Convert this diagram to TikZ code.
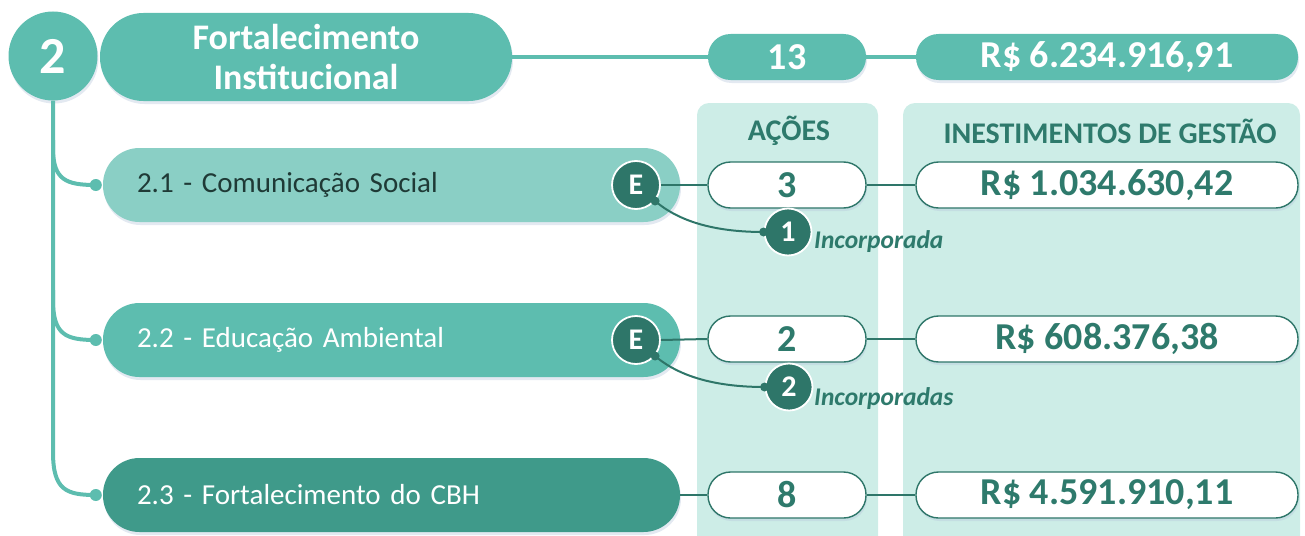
\documentclass[tikz,border=0pt]{standalone}
\usepackage{fontspec}
\setmainfont{Carlito}
\usetikzlibrary{shadows,calc}
\definecolor{tmid}{HTML}{5DBDAF}
\definecolor{tlight}{HTML}{8ACFC5}
\definecolor{tdark}{HTML}{3F9A8A}
\definecolor{tdeep}{HTML}{2E7669}
\definecolor{ttext}{HTML}{2E7A6C}
\definecolor{tcol}{HTML}{CDEDE7}
\definecolor{tsub}{HTML}{1F3A36}
\definecolor{shd}{HTML}{B8C8DC}
\newcommand{\fsz}[1]{\fontsize{#1}{1.15\dimexpr#1pt\relax}\selectfont}
\begin{document}
\begin{tikzpicture}[x=1pt,y=-1pt,
  sh/.style={drop shadow={shadow xshift=1pt,shadow yshift=-3pt,opacity=0.4,fill=shd}},
  valpill/.style={rounded corners=22.5, minimum height=46, inner sep=0pt, font=\bfseries\fsz{38}},
  totpill/.style={valpill, fill=tmid, text=white, sh},
  rowpill/.style={valpill, fill=white, draw=tdeep, line width=1.4, text=ttext, sh},
  hdr/.style={font=\bfseries\fsz{30}, text=ttext, inner sep=0pt},
  subpill/.style={rounded corners=36.5, minimum height=74, text width=509, inner xsep=34, inner ysep=0pt, align=left, font=\fsz{29}, sh},
  ebadge/.style={circle, fill=tdeep, draw=white, line width=1.8, minimum size=48, inner sep=0pt, text=white, font=\bfseries\fsz{30}},
  nbadge/.style={ebadge, minimum size=47},
  note/.style={font=\bfseries\itshape\fsz{25.5}, text=ttext, inner sep=0pt, anchor=west},
  tree/.style={tmid, line width=4},
  link/.style={tdeep, line width=2}
]
\useasboundingbox (0,0) rectangle (1305,535);
% column backgrounds
\fill[tcol, rounded corners=12] (697,103) rectangle (878,560);
\fill[tcol, rounded corners=12] (903,103) rectangle (1300,560);
\node[hdr] (ha) at (789,131) {AÇÕES};
\node[hdr] (hi) at (1110,131) {INESTIMENTOS DE GESTÃO};

% title row
\node[fill=tmid, rounded corners=43.5, minimum width=412, minimum height=88, inner sep=0pt, sh,
      text=white, align=center, font=\bfseries\fontsize{36}{40}\selectfont] (t) at (306,57) {Fortalecimento\\Institucional};
\node[circle, fill=tmid, minimum size=89, inner sep=0pt, sh, text=white, font=\bfseries\fsz{52}] (c2) at (53,56) {2};
\node[totpill, minimum width=158] (n13) at (787,57) {13};
\node[totpill, minimum width=382] (tot) at (1107,57) {R\$ 6.234.916,91};
\draw[tree] (t.east) -- (n13.west);
\draw[tree] (n13.east) -- (tot.west);

% sub rows
\node[subpill, fill=tlight, text=tsub] (s1) at (391.5,185) {2.1 - Comunicação Social};
\node[subpill, fill=tmid, text=white] (s2) at (391.5,340) {2.2 - Educação Ambiental};
\node[subpill, fill=tdark, text=white] (s3) at (391.5,495) {2.3 - Fortalecimento do CBH};

% tree connector
\coordinate (d1) at ($(s1.west)+(-7,0)$);
\coordinate (d2) at ($(s2.west)+(-7,0)$);
\coordinate (d3) at ($(s3.west)+(-7,0)$);
\draw[tree] (c2.south) -- (53,148) .. controls (53,180) and (66,185) .. (d1);
\draw[tree] (53,140) -- (53,300) .. controls (53,335) and (66,340) .. (d2);
\draw[tree] (53,290) -- (53,452) .. controls (53,490) and (66,495) .. (d3);
\fill[tmid] (d1) circle (6);
\fill[tmid] (d2) circle (6);
\fill[tmid] (d3) circle (6);

% E badges
\node[ebadge] (e1) at (636,185) {E};
\node[ebadge] (e2) at (636,340) {E};

% value pills
\node[rowpill, minimum width=158] (a1) at (787,185) {3};
\node[rowpill, minimum width=382] (v1) at (1107,185) {R\$ 1.034.630,42};
\node[rowpill, minimum width=158] (a2) at (787,339) {2};
\node[rowpill, minimum width=382] (v2) at (1107,339) {R\$ 608.376,38};
\node[rowpill, minimum width=158] (a3) at (787,495) {8};
\node[rowpill, minimum width=382] (v3) at (1107,495) {R\$ 4.591.910,11};

\draw[link] (e1.east) -- (a1.west);
\draw[link] (a1.east) -- (v1.west);
\draw[link] (e2.east) -- (a2.west);
\draw[link] (a2.east) -- (v2.west);
\draw[link] (s3.east) -- (a3.west);
\draw[link] (a3.east) -- (v3.west);

% incorporated badges
\node[nbadge] (b1) at (788,232) {1};
\node[nbadge] (b2) at (789,387) {2};
\node[note] (i1) at (814,242) {Incorporada};
\node[note] (i2) at (814,399) {Incorporadas};
\coordinate (k1) at (e1.-40);
\coordinate (k2) at (e2.-40);
\draw[link] (k1) .. controls +(28,24) and +(-40,0) .. (b1.west);
\draw[link] (k2) .. controls +(28,24) and +(-40,0) .. (b2.west);
\fill[tdeep] (k1) circle (4.5);
\fill[tdeep] (k2) circle (4.5);
\fill[tdeep] (b1.west) circle (4.5);
\fill[tdeep] (b2.west) circle (4.5);
\end{tikzpicture}
\end{document}
